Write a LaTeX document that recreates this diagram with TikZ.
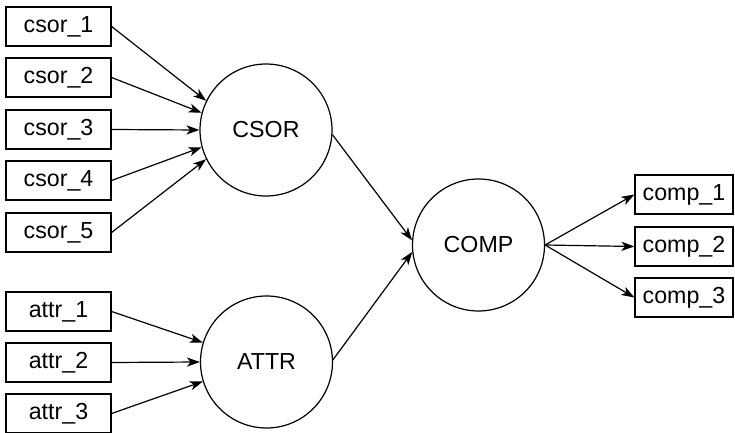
\documentclass[tikz,border=0pt]{standalone}
\usepackage{fontspec}
\setmainfont{Liberation Sans}
\usetikzlibrary{arrows.meta}

\tikzset{
  varbox/.style={draw, line width=0.6pt, minimum width=52.5pt, minimum height=19.5pt, inner sep=0pt},
  outbox/.style={varbox, minimum width=49pt},
  latent/.style={draw, circle, line width=0.6pt, minimum size=66pt, inner sep=0pt},
  link/.style={line width=0.6pt, -{Stealth[length=6.5pt, width=4.6pt, inset=1.8pt]}}
}

\begin{document}
\begin{tikzpicture}[x=0.5pt, y=-0.5pt, font=\fontsize{11.6pt}{14pt}\selectfont]
			\useasboundingbox (0,0) rectangle (735,433);
			% circles
			\node[latent] (csor) at (266,130) {CSOR};
			\node[latent] (attr) at (266.5,362) {ATTR};
			\node[latent] (comp) at (478.5,245) {COMP};
			% input boxes
			\node[varbox] (csor1) at (58.5,26.5) {csor\_1};
			\node[varbox] (csor2) at (58.5,77.5) {csor\_2};
			\node[varbox] (csor3) at (58.5,129.5) {csor\_3};
			\node[varbox] (csor4) at (58.5,180.5) {csor\_4};
			\node[varbox] (csor5) at (58.5,232.5) {csor\_5};
			\node[varbox] (attr1) at (58.5,311.5) {attr\_1};
			\node[varbox] (attr2) at (58.5,362.5) {attr\_2};
			\node[varbox] (attr3) at (58.5,413.5) {attr\_3};
			% output boxes
			\node[outbox] (comp1) at (684,194.5) {comp\_1};
			\node[outbox] (comp2) at (684,246.5) {comp\_2};
			\node[outbox] (comp3) at (684,297.5) {comp\_3};
			% arrows
			\draw[link] (csor1.east) -- (csor.154);
			\draw[link] (csor2.east) -- (csor.165);
			\draw[link] (csor3.east) -- (csor.180);
			\draw[link] (csor4.east) -- (csor.195);
			\draw[link] (csor5.east) -- (csor.206);
			\draw[link] (attr1.east) -- (attr.163);
			\draw[link] (attr2.east) -- (attr.180);
			\draw[link] (attr3.east) -- (attr.197);
			\draw[link] (csor.-4) -- (comp.176);
			\draw[link] (attr.2) -- (comp.186);
			\draw[link] (comp.east) -- (comp1.west);
			\draw[link] (comp.east) -- (comp2.west);
			\draw[link] (comp.east) -- (comp3.west);
		\end{tikzpicture}
\end{document}
